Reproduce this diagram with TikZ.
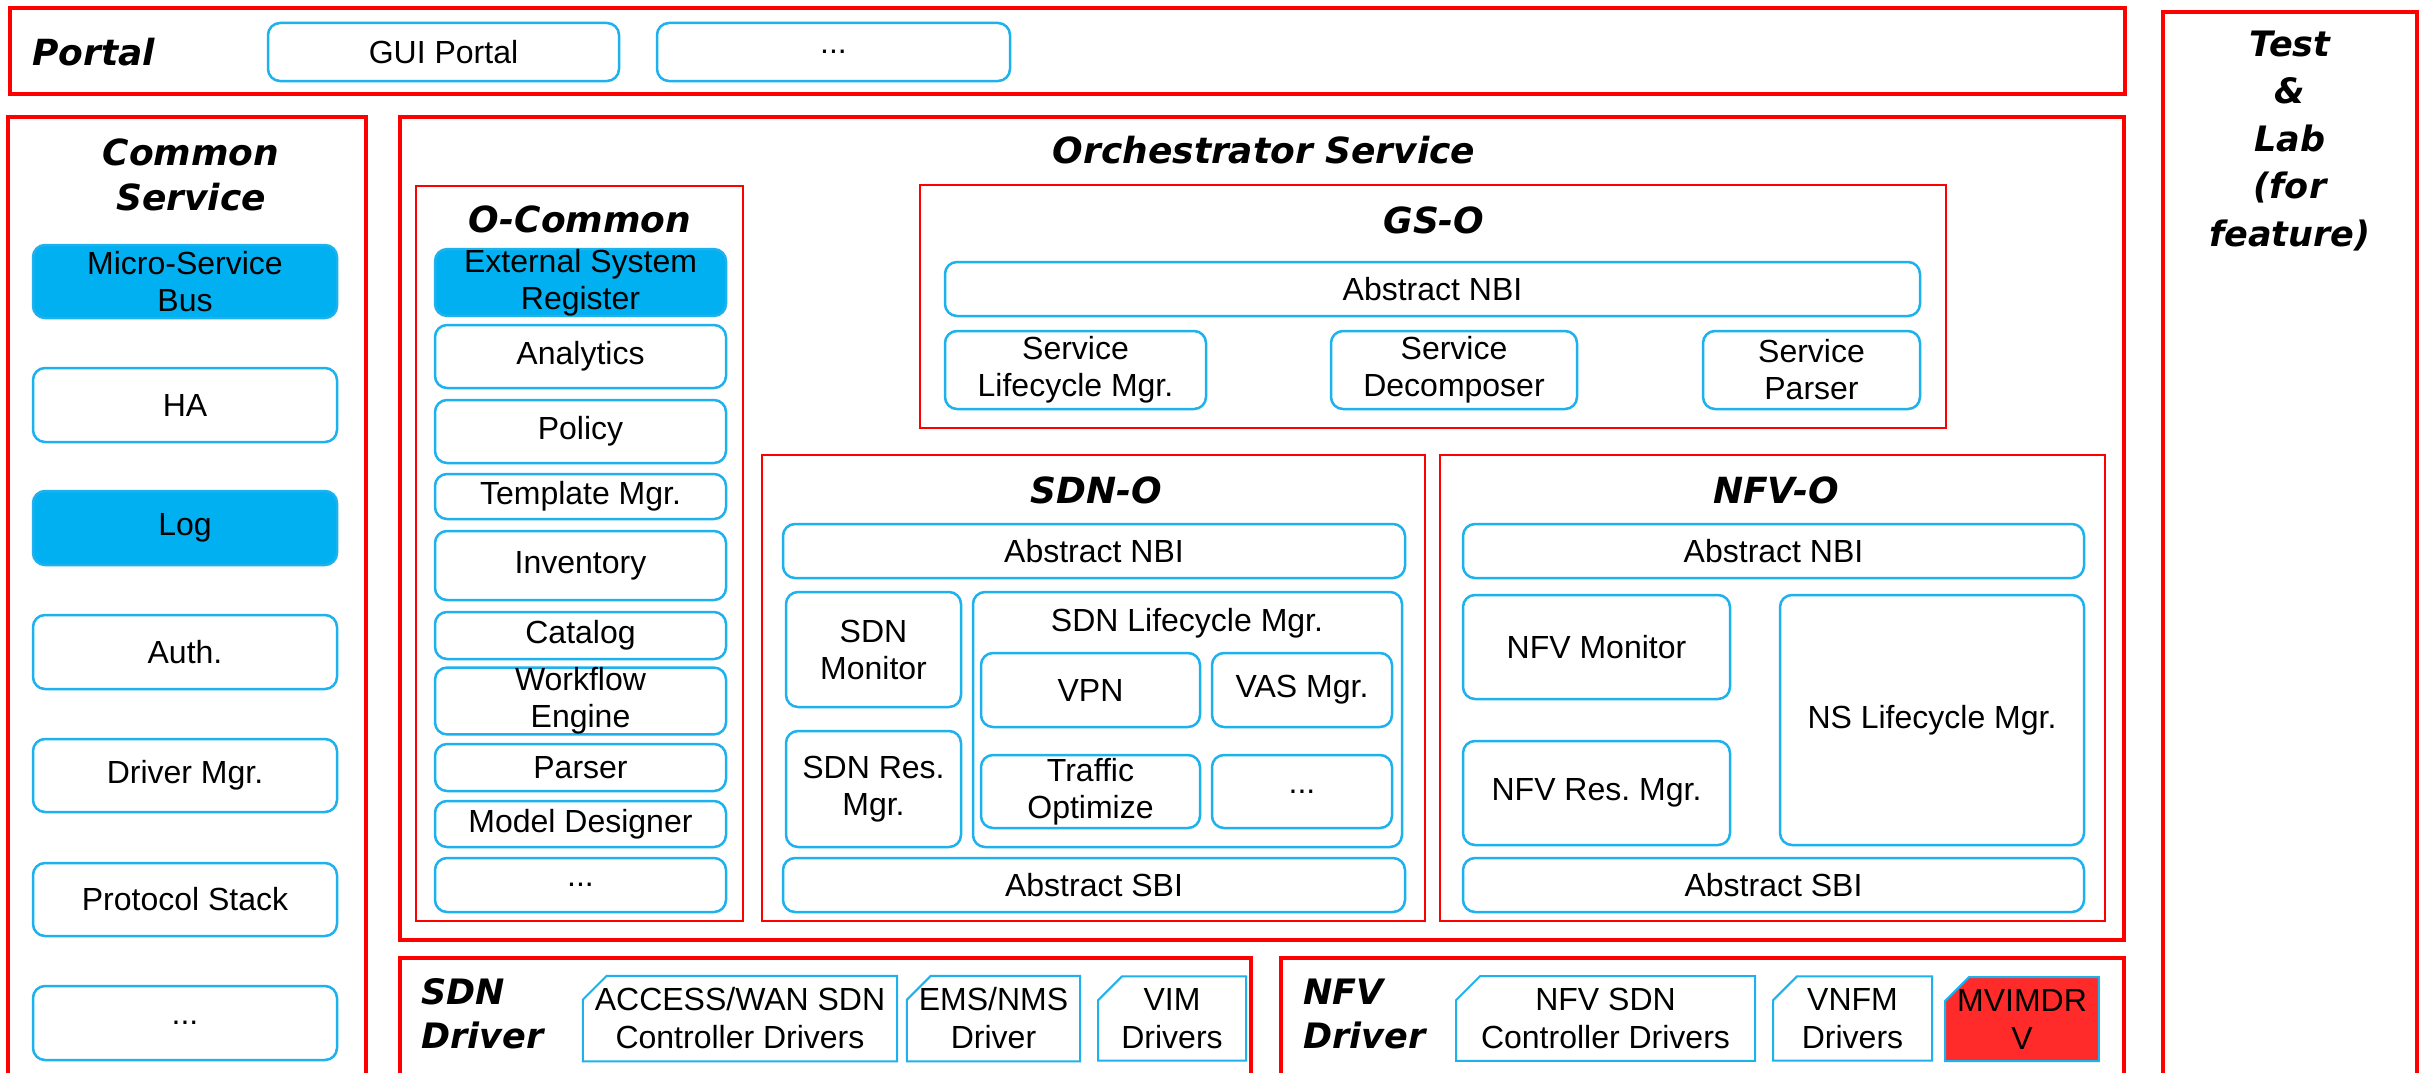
\documentclass[tikz,border=0pt]{standalone}
\usepackage{fontspec}
\setmainfont{Liberation Sans}
\newfontfamily\ttlfont{DejaVu Sans}
\usetikzlibrary{shapes.misc}
\definecolor{rb}{HTML}{FF0000}
\definecolor{bl}{HTML}{1DB1EE}
\definecolor{blf}{HTML}{00B0F0}
\definecolor{mred}{HTML}{FF2B2B}
\newcommand{\mkbox}[7]{\node[#1, minimum width={#5-#3}, minimum height={#6-#4}] (#2) at ({(#3+#5)/2},{(#4+#6)/2}) {#7};}
\frenchspacing
\begin{document}
\begin{tikzpicture}[x=1pt,y=-1pt,
  outer/.style={draw=rb, line width=4pt, inner sep=0pt, rectangle},
  innerbox/.style={draw=rb, line width=2pt, inner sep=0pt, rectangle},
  comp/.style={draw=bl, line width=2.5pt, rounded corners=12pt, inner sep=0pt, align=center, font=\fontsize{32}{37}\selectfont, text=black},
  compf/.style={comp, fill=blf},
  drv/.style={draw=bl, line width=2pt, chamfered rectangle, chamfered rectangle corners=north west, chamfered rectangle xsep=12pt, chamfered rectangle ysep=12pt, inner sep=0pt, align=center, font=\fontsize{32}{38}\selectfont, text=black},
  ttl/.style={font=\ttlfont\bfseries\itshape\fontsize{36}{45}\selectfont, align=center, inner sep=0pt, text=black},
]
\useasboundingbox (0,0) rectangle (2422,1073);
\clip (0,0) rectangle (2422,1073);
\fill[white] (0,0) rectangle (2422,1073);

% Portal
\mkbox{outer}{portal}{10}{8}{2125}{94}{}
\node[ttl, anchor=west] (portalt) at (32,52) {Portal};
\mkbox{comp}{gui}{268}{23}{619}{81}{GUI Portal}
\mkbox{comp}{pdots}{657}{23}{1010}{81}{...}

% Test & Lab
\mkbox{outer}{test}{2163}{12}{2417}{1090}{}
\node[ttl, font=\ttlfont\bfseries\itshape\fontsize{35}{47.5}\selectfont] (testt) at (2290,141) {Test\\\&\\Lab\\(for\\feature)};

% Common Service
\mkbox{outer}{common}{8}{117}{366}{1090}{}
\node[ttl] (commont) at (191,175) {Common\\Service};
\mkbox{compf}{msb}{33}{245}{337}{318}{Micro-Service\\Bus}
\mkbox{comp}{ha}{33}{368}{337}{442}{HA}
\mkbox{compf}{log}{33}{491}{337}{565}{Log}
\mkbox{comp}{auth}{33}{615}{337}{689}{Auth.}
\mkbox{comp}{drvmgr}{33}{739}{337}{812}{Driver Mgr.}
\mkbox{comp}{proto}{33}{863}{337}{936}{Protocol Stack}
\mkbox{comp}{cdots}{33}{986}{337}{1060}{...}

% Orchestrator
\mkbox{outer}{orch}{400}{117}{2124}{940}{}
\node[ttl] (orcht) at (1264,150) {Orchestrator Service};

% O-Common
\mkbox{innerbox}{ocommon}{416}{186}{743}{921}{}
\node[ttl] (ocommont) at (580,219) {O-Common};
\mkbox{compf}{esr}{435}{250}{726}{315}{External System\\Register}
\mkbox{comp}{analytics}{435}{325}{726}{388}{Analytics}
\mkbox{comp}{policy}{435}{400}{726}{463}{Policy}
\mkbox{comp}{tmpl}{435}{474}{726}{519}{Template Mgr.}
\mkbox{comp}{inventory}{435}{531}{726}{600}{Inventory}
\mkbox{comp}{catalog}{435}{612}{726}{659}{Catalog}
\mkbox{comp}{workflow}{435}{668}{726}{734}{Workflow\\Engine}
\mkbox{comp}{parser}{435}{744}{726}{791}{Parser}
\mkbox{comp}{model}{435}{801}{726}{847}{Model Designer}
\mkbox{comp}{odots}{435}{858}{726}{912}{...}

% GS-O
\mkbox{innerbox}{gso}{920}{185}{1946}{428}{}
\node[ttl] (gsot) at (1434,220) {GS-O};
\mkbox{comp}{gnbi}{945}{262}{1920}{316}{Abstract NBI}
\mkbox{comp}{slm}{945}{331}{1206}{409}{Service\\Lifecycle Mgr.}
\mkbox{comp}{sdec}{1331}{331}{1577}{409}{Service\\Decomposer}
\mkbox{comp}{spar}{1703}{331}{1920}{409}{Service\\Parser}

% SDN-O
\mkbox{innerbox}{sdno}{762}{455}{1425}{921}{}
\node[ttl] (sdnot) at (1096,490) {SDN-O};
\mkbox{comp}{snbi}{783}{524}{1405}{578}{Abstract NBI}
\mkbox{comp}{smon}{786}{592}{961}{707}{SDN\\Monitor}
\mkbox{comp}{sres}{786}{731}{961}{847}{SDN Res.\\Mgr.}
\mkbox{comp}{slc}{973}{592}{1402}{847}{}
\node[font=\fontsize{32}{37}\selectfont, inner sep=0pt] (slct) at (1187,623) {SDN Lifecycle Mgr.};
\mkbox{comp}{vpn}{981}{653}{1200}{727}{VPN}
\mkbox{comp}{vas}{1212}{653}{1392}{727}{VAS Mgr.}
\mkbox{comp}{traffic}{981}{755}{1200}{828}{Traffic\\Optimize}
\mkbox{comp}{sdots}{1212}{755}{1392}{828}{...}
\mkbox{comp}{ssbi}{783}{858}{1405}{912}{Abstract SBI}

% NFV-O
\mkbox{innerbox}{nfvo}{1440}{455}{2105}{921}{}
\node[ttl] (nfvot) at (1776,490) {NFV-O};
\mkbox{comp}{nnbi}{1463}{524}{2084}{578}{Abstract NBI}
\mkbox{comp}{nmon}{1463}{595}{1730}{699}{NFV Monitor}
\mkbox{comp}{nres}{1463}{741}{1730}{845}{NFV Res. Mgr.}
\mkbox{comp}{nslc}{1780}{595}{2084}{845}{NS Lifecycle Mgr.}
\mkbox{comp}{nsbi}{1463}{858}{2084}{912}{Abstract SBI}

% SDN Driver
\mkbox{outer}{sdndrv}{400}{958}{1251}{1090}{}
\node[ttl, anchor=west, align=left, font=\ttlfont\bfseries\itshape\fontsize{35}{44}\selectfont] (sdndrvt) at (421,1014) {SDN\\Driver};
\mkbox{drv}{acc}{590}{977}{890}{1060}{ACCESS/WAN SDN\\Controller Drivers}
\mkbox{drv}{ems}{908}{977}{1079}{1060}{EMS/NMS\\Driver}
\mkbox{drv}{vim}{1098}{977}{1246}{1060}{VIM\\Drivers}

% NFV Driver
\mkbox{outer}{nfvdrv}{1281}{958}{2124}{1090}{}
\node[ttl, anchor=west, align=left, font=\ttlfont\bfseries\itshape\fontsize{35}{44}\selectfont] (nfvdrvt) at (1303,1014) {NFV\\Driver};
\mkbox{drv}{nsdn}{1456}{977}{1755}{1060}{NFV SDN\\Controller Drivers}
\mkbox{drv}{vnfm}{1773}{977}{1932}{1060}{VNFM\\Drivers}
\mkbox{drv, fill=mred}{mvim}{1949}{977}{2095}{1061}{MVIMDR\\V}
\end{tikzpicture}
\end{document}
